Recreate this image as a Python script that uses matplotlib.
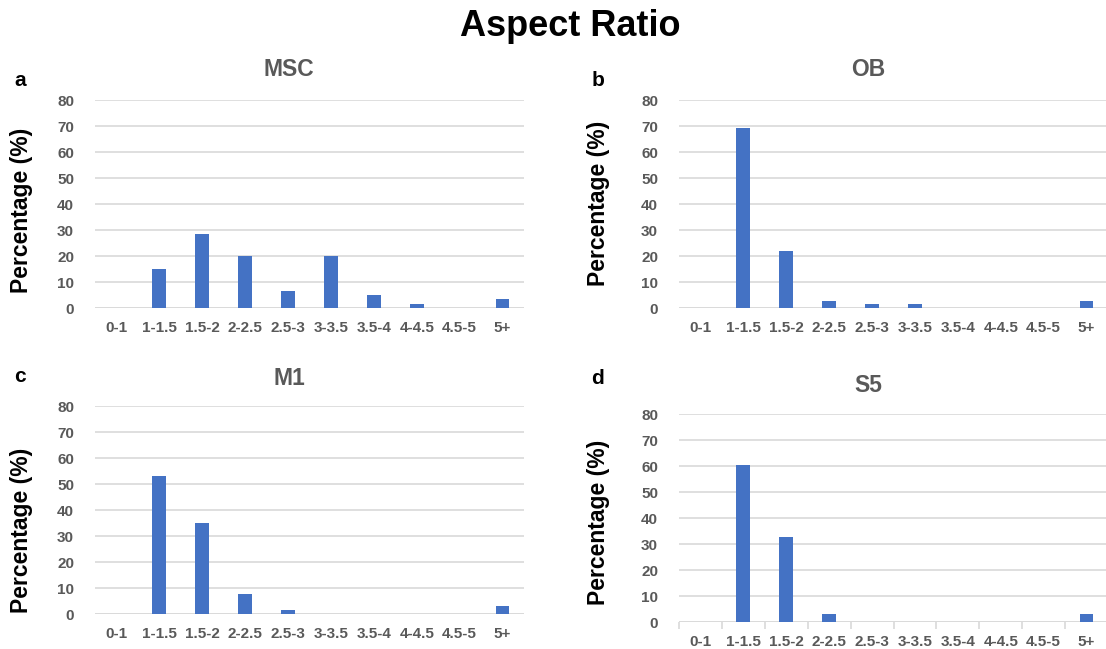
import matplotlib
matplotlib.use("Agg")
import matplotlib.pyplot as plt
import numpy as np

plt.rcParams['font.family'] = ['Liberation Sans', 'DejaVu Sans']

categories = ["0-1", "1-1.5", "1.5-2", "2-2.5", "2.5-3", "3-3.5", "3.5-4", "4-4.5", "4.5-5", "5+"]
msc = [0, 15.0, 28.3, 20.0, 6.7, 20.0, 5.0, 1.7, 0, 3.3]
ob = [0, 69.4, 21.9, 2.8, 1.4, 1.4, 0, 0, 0, 2.8]
m1 = [0, 53.1, 34.9, 7.6, 1.7, 0, 0, 0, 0, 3.1]
s5 = [0, 60.5, 32.8, 3.2, 0, 0, 0, 0, 0, 3.2]
yticks = [0, 10, 20, 30, 40, 50, 60, 70, 80]

W, H = 1106, 649
fig = plt.figure(figsize=(W / 100, H / 100), dpi=100)

BAR = "#4472C4"
GRID = "#d9d9d9"
TICK = "#595959"


def rect(left, right, top, bottom):
    return [left / W, 1 - bottom / H, (right - left) / W, (bottom - top) / H]


def panel(box, values, title, letter, title_xy, letter_xy, ylab_xy, boundary_ticks=False):
    ax = fig.add_axes(rect(*box))
    x = np.arange(len(categories))
    ax.bar(x, values, width=0.32, color=BAR, zorder=3)
    ax.set_xlim(-0.5, len(categories) - 0.5)
    ax.set_ylim(0, 80)
    ax.set_yticks(yticks)
    ax.set_xticks(x)
    ax.set_xticklabels(categories)
    for s in ax.spines.values():
        s.set_visible(False)
    ax.yaxis.grid(True, color=GRID, linewidth=1.2, zorder=0)
    ax.set_axisbelow(True)
    ax.axhline(0, color=GRID, linewidth=1.2, zorder=1)
    ax.tick_params(axis='y', length=0, pad=15, labelsize=11, labelcolor=TICK)
    ax.tick_params(axis='x', length=0, pad=9, labelsize=11, labelcolor=TICK)
    for lab in ax.get_xticklabels() + ax.get_yticklabels():
        lab.set_fontweight('bold')
    if boundary_ticks:
        ax.set_xticks(np.arange(-0.5, len(categories), 1.0), minor=True)
        ax.tick_params(axis='x', which='minor', length=5, color=GRID, width=1.2, direction='out')
    fig.text(title_xy[0] / W, 1 - title_xy[1] / H, title, ha='center', va='center',
             fontsize=16.5, fontweight='bold', color=TICK)
    fig.text(letter_xy[0] / W, 1 - letter_xy[1] / H, letter, ha='center', va='center',
             fontsize=15, fontweight='bold', color='black')
    fig.text(ylab_xy[0] / W, 1 - ylab_xy[1] / H, "Percentage (%)", ha='center', va='center',
             rotation=90, fontsize=16.5, fontweight='bold', color='black')
    return ax


panel((95, 524, 100, 308), msc, "MSC", "a", (289, 70), (20, 80), (22, 210))
panel((679, 1108, 100, 308), ob, "OB", "b", (868, 70), (598, 80), (598, 203))
panel((95, 524, 406, 614), m1, "M1", "c", (289, 378), (20, 377), (22, 530))
panel((679, 1108, 414, 622), s5, "S5", "d", (868, 385), (598, 378), (598, 522), boundary_ticks=True)

fig.text(570 / W, 1 - 27 / H, "Aspect Ratio", ha='center', va='center',
         fontsize=26, fontweight='bold', color='black')

fig.savefig("out.png", dpi=100, facecolor='white')
